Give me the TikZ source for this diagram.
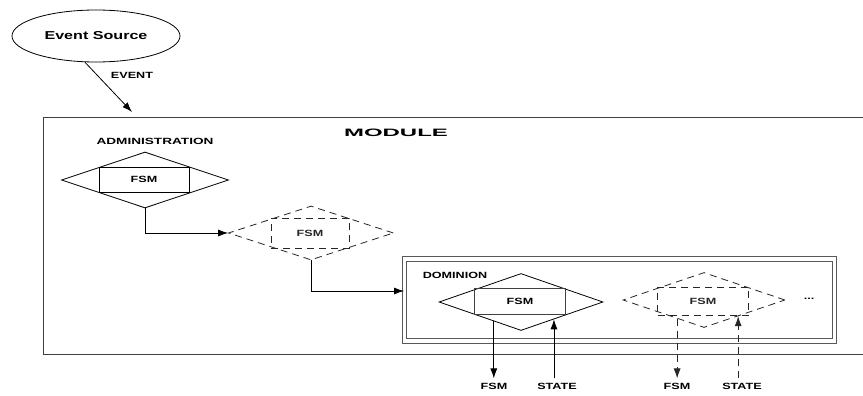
\documentclass[tikz,border=0pt]{standalone}
\usepackage{fontspec}
\setmainfont{Liberation Sans}
\usetikzlibrary{shapes.geometric,arrows.meta,calc}
\newcommand{\xw}[1]{\scalebox{1.4}[1]{#1}}

\begin{document}
\begin{tikzpicture} [x=1pt,y=-1pt,line width=0.8pt,
    lbl/.style={font=\bfseries\fontsize{9}{10}\selectfont,xscale=1.4,inner sep=1pt},
    outlbl/.style={lbl,inner sep=4pt},
    dia/.style={diamond,draw,inner sep=0pt},
    fsmbox/.style={rectangle,draw,inner sep=0pt,minimum width=91pt,minimum height=26pt,font=\bfseries\fontsize{9}{10}\selectfont},
    dsh/.style={dash pattern=on 7pt off 5pt,color=black!85},
    arr/.style={-{Latex[length=10pt,width=7pt]}}]
            \useasboundingbox (0,0) rectangle (863,396);
            \begin{scope}
                \node[draw,ellipse,inner sep=0pt,minimum width=168pt,minimum height=52pt,font=\bfseries\fontsize{11.5}{13}\selectfont] (src) at (96,36) {\xw{Event Source}};
                \coordinate (evt) at (132,112);
                \draw[arr] (src.247) -- (evt); \node[lbl] (evtlbl) at (132,75) {EVENT};

                \draw[color=black!75] (870,117) -- (43,117) -- (43,354) -- (870,354);
                \node[lbl,font=\bfseries\fontsize{10.7}{12}\selectfont,xscale=1.6] (module) at (396,133) {MODULE};
                \node[lbl,xscale=1.08] (admin) at (155,141) {ADMINISTRATION};

                \node[dia,minimum width=167pt,minimum height=56pt] (d1) at (145,180) {}; \node[fsmbox,minimum width=90pt,minimum height=25pt] (f1) at (144,179.5) {\xw{FSM}};
                \node[dia,dsh,minimum width=165pt,minimum height=54pt] (d2) at (311,233) {}; \node[fsmbox,dsh,minimum width=78pt,minimum height=30pt] (f2) at (310,233) {\xw{FSM}};
                \draw[arr] (d1.south) |- (d2.west);

                \node[draw=black!65,double,double distance=3.6pt,line width=1pt,inner sep=0pt,minimum width=430pt,minimum height=82pt] (dom) at (619.5,300) {};
                \node[lbl] (domlbl) at (455,275) {DOMINION};
                \draw[arr] (d2.south) |- ([yshift=9pt]dom.west);

                \node[dia,minimum width=164pt,minimum height=57pt] (d3) at (521,302) {}; \node[fsmbox,draw=black!75] (f3) at (520,301) {\xw{FSM}};
                \node[dia,dsh,minimum width=162pt,minimum height=55pt] (d4) at (704,300) {}; \node[fsmbox,dsh,minimum height=28pt] (f4) at (703,301) {\xw{FSM}};
                \node[lbl] (more) at (809,299) {...};

                \node[outlbl] (out3) at (494,386) {FSM}; \node[outlbl] (in3) at (557,386) {STATE};
                \node[outlbl] (out4) at (677,386) {FSM}; \node[outlbl] (in4) at (742,386) {STATE};
                \coordinate (o3) at ($(d3.south)!0.33!(d3.west)$); \coordinate (i3) at ($(d3.south)!0.4!(d3.east)$);
                \coordinate (o4) at ($(d4.south)!0.33!(d4.west)$); \coordinate (i4) at ($(d4.south)!0.42!(d4.east)$);
                \draw[arr] (o3) -- (o3 |- out3.north); \draw[arr] (i3 |- in3.north) -- (i3);
                \draw[arr,dsh] (o4) -- (o4 |- out4.north); \draw[arr,dsh] (i4 |- in4.north) -- (i4);
            \end{scope}
        \end{tikzpicture}
\end{document}
